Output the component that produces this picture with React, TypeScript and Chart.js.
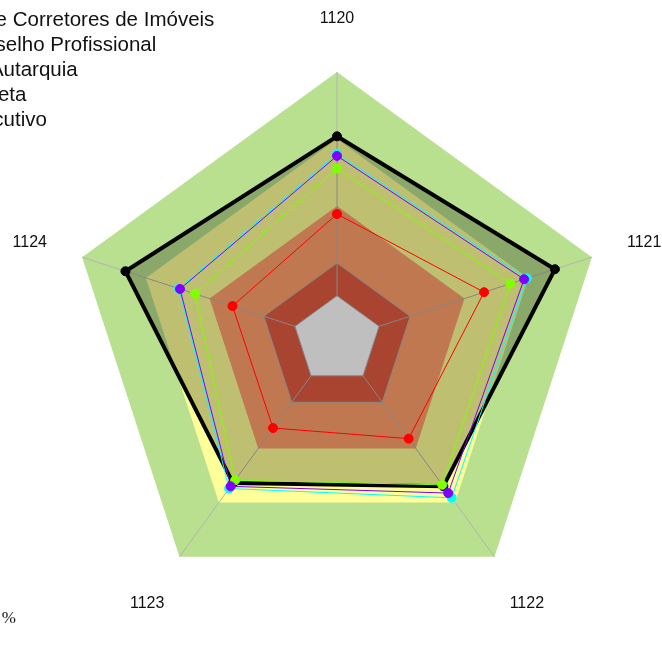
import React, { useEffect, useRef } from 'react';
import { Chart, registerables } from 'chart.js';

Chart.register(...registerables);

// ---- data ----
const CATEGORIES = ['1120', '1121', '1122', '1123', '1124'];
const SERIES_NAMES = [
  'C. de Corretores de Imóveis',
  'Conselho Profissional',
  'Na Autarquia',
  'Indireta',
  'Executivo',
];
const SERIES_COLORS = ['#000000', '#8000ff', '#00ffff', '#80ff00', '#ff0000'];
const S_ENTITY = [76, 85.5, 67.5, 66, 83];
const S_PROFISSIONAL = [68.7, 73.4, 70.6, 67.5, 61.6];
const S_AUTARQUIA = [69.5, 74.5, 72.8, 68.5, 62];
const S_INDIRETA = [64, 68, 66.8, 64.7, 55.7];
const S_EXECUTIVO = [47, 57.7, 45.5, 40.6, 41];
const SERIES_VALUES = [S_ENTITY, S_PROFISSIONAL, S_AUTARQUIA, S_INDIRETA, S_EXECUTIVO];
const DRAW_ORDER = [5, 1, 3, 2, 4];

const BAND_LIMITS = [100, 75, 50, 28.7, 16.5];
const BAND_COLORS = ['#b8e08e', '#ffff99', '#ffa06b', '#e05b40', '#ffffff'];
const AXIS_MIN = 0;
const AXIS_MAX = 100;
const FOOTNOTE = 'Escala em %';

const bandsPlugin = {
  id: 'bands',
  beforeDraw(chart: any) {
    const s = chart.scales.r;
    const ctx = chart.ctx;
    const n = chart.data.labels.length;
    const poly = (dist: number) => {
      ctx.beginPath();
      for (let i = 0; i < n; i++) {
        const p = s.getPointPosition(i, dist);
        if (i === 0) ctx.moveTo(p.x, p.y);
        else ctx.lineTo(p.x, p.y);
      }
      ctx.closePath();
    };
    ctx.save();
    BAND_LIMITS.forEach((v, k) => {
      poly(s.getDistanceFromCenterForValue(v));
      ctx.fillStyle = BAND_COLORS[k];
      ctx.fill();
    });
    const inner = s.getDistanceFromCenterForValue(BAND_LIMITS[BAND_LIMITS.length - 1]);
    const outer = s.getDistanceFromCenterForValue(AXIS_MAX);
    ctx.strokeStyle = '#b4b4b4';
    ctx.lineWidth = 1;
    for (let i = 0; i < n; i++) {
      const a = s.getPointPosition(i, inner);
      const b = s.getPointPosition(i, outer);
      ctx.beginPath();
      ctx.moveTo(a.x, a.y);
      ctx.lineTo(b.x, b.y);
      ctx.stroke();
    }
    [BAND_LIMITS[3], BAND_LIMITS[4]].forEach((v) => {
      poly(s.getDistanceFromCenterForValue(v));
      ctx.stroke();
    });
    ctx.restore();
  },
  afterDraw(chart: any) {
    const s = chart.scales.r;
    const ctx = chart.ctx;
    ctx.save();
    // axis labels
    ctx.fillStyle = '#111111';
    ctx.font = '16px "Liberation Sans", Arial, sans-serif';
    ctx.textAlign = 'center';
    ctx.textBaseline = 'middle';
    chart.data.labels.forEach((lab: string, i: number) => {
      const p = s.getPointPosition(i, s.drawingArea + 55);
      ctx.fillText(lab, p.x, p.y + 2);
    });
    // legend (cut off at the left edge)
    ctx.font = '20.5px "Liberation Sans", Arial, sans-serif';
    ctx.textAlign = 'left';
    ctx.textBaseline = 'alphabetic';
    chart.data.datasets.forEach((ds: any, i: number) => {
      ctx.fillText(ds.label, -42, 26 + 25 * i);
    });
    // footnote
    ctx.font = '17px "Liberation Serif", "Times New Roman", serif';
    ctx.textAlign = 'right';
    ctx.fillText(FOOTNOTE, 16, 623);
    ctx.restore();
  },
};

export default function App() {
  const ref = useRef<HTMLCanvasElement>(null);
  useEffect(() => {
    if (!ref.current) return;
    const chart = new Chart(ref.current, {
      type: 'radar',
      data: {
        labels: CATEGORIES,
        datasets: SERIES_VALUES.map((vals, i) => ({
          label: SERIES_NAMES[i],
          data: vals,
          borderColor: SERIES_COLORS[i],
          backgroundColor: i === 0 ? 'rgba(0,0,0,0.25)' : SERIES_COLORS[i],
          fill: i === 0 ? 'origin' : false,
          borderWidth: i === 0 ? 4 : 1,
          pointRadius: 4.5,
          pointBorderWidth: 1,
          pointBackgroundColor: SERIES_COLORS[i],
          pointBorderColor: SERIES_COLORS[i],
          tension: 0,
          order: DRAW_ORDER[i],
        })),
      },
      options: {
        responsive: false,
        animation: false,
        devicePixelRatio: 1,
        events: [],
        layout: { padding: { left: 69, right: 57, top: 72, bottom: 60 } },
        plugins: { legend: { display: false }, tooltip: { enabled: false } },
        scales: {
          r: {
            min: AXIS_MIN,
            max: AXIS_MAX,
            startAngle: 0,
            ticks: { display: false },
            grid: { display: false },
            angleLines: { display: false },
            pointLabels: { display: false },
          },
        },
      },
      plugins: [bandsPlugin],
    } as any);
    return () => chart.destroy();
  }, []);
  return (
    <canvas
      ref={ref}
      width={662}
      height={668}
      style={{ position: 'absolute', left: 0, top: 0, width: 662, height: 668, display: 'block' }}
    />
  );
}
